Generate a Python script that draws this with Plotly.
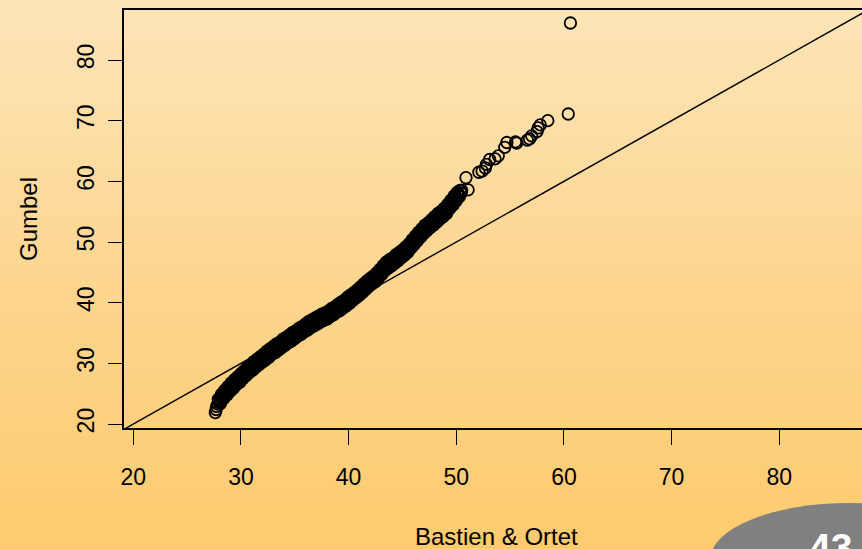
import base64
import struct
import zlib

import plotly.graph_objects as go

# ---- data (the dense band is many overlapping points) ----
bastien_ortet = [
    27.62, 27.70, 27.75, 27.85,
    27.9, 28.0, 28.1, 28.2, 28.3, 28.4, 28.5, 28.6, 28.7, 28.8, 28.9,
    29.0, 29.1, 29.2, 29.3, 29.4, 29.5, 29.6, 29.7, 29.8, 29.9,
    30.0, 30.1, 30.2, 30.3, 30.4, 30.5, 30.6, 30.7, 30.8, 30.9,
    31.0, 31.1, 31.2, 31.3, 31.4, 31.5, 31.6, 31.7, 31.8, 31.9,
    32.0, 32.1, 32.2, 32.3, 32.4, 32.5, 32.6, 32.7, 32.8, 32.9,
    33.0, 33.1, 33.2, 33.3, 33.4, 33.5, 33.6, 33.7, 33.8, 33.9,
    34.0, 34.1, 34.2, 34.3, 34.4, 34.5, 34.6, 34.7, 34.8, 34.9,
    35.0, 35.1, 35.2, 35.3, 35.4, 35.5, 35.6, 35.7, 35.8, 35.9,
    36.0, 36.1, 36.2, 36.3, 36.4, 36.5, 36.6, 36.7, 36.8, 36.9,
    37.0, 37.1, 37.2, 37.3, 37.4, 37.5, 37.6, 37.7, 37.8, 37.9,
    38.0, 38.1, 38.2, 38.3, 38.4, 38.5, 38.6, 38.7, 38.8, 38.9,
    39.0, 39.1, 39.2, 39.3, 39.4, 39.5, 39.6, 39.7, 39.8, 39.9,
    40.0, 40.1, 40.2, 40.3, 40.4, 40.5, 40.6, 40.7, 40.8, 40.9,
    41.0, 41.1, 41.2, 41.3, 41.4, 41.5, 41.6, 41.7, 41.8, 41.9,
    42.0, 42.1, 42.2, 42.3, 42.4, 42.5, 42.6, 42.7, 42.8, 42.9,
    43.0, 43.1, 43.2, 43.3, 43.4, 43.5, 43.6, 43.7, 43.8, 43.9,
    44.0, 44.1, 44.2, 44.3, 44.4, 44.5, 44.6, 44.7, 44.8, 44.9,
    45.0, 45.1, 45.2, 45.3, 45.4, 45.5, 45.6, 45.7, 45.8, 45.9,
    46.0, 46.1, 46.2, 46.3, 46.4, 46.5, 46.6, 46.7, 46.8, 46.9,
    47.0, 47.1, 47.2, 47.3, 47.4, 47.5, 47.6, 47.7, 47.8, 47.9,
    48.0, 48.1, 48.2, 48.3, 48.4, 48.5, 48.6, 48.7, 48.8, 48.9,
    49.0, 49.1, 49.2, 49.3, 49.4, 49.5, 49.6, 49.7, 49.8, 49.9,
    50.0, 50.1, 50.2, 50.3, 50.4, 50.5,
    27.95, 28.05, 28.15, 28.25, 28.35, 28.45, 28.55, 28.65, 28.75, 28.85,
    28.95, 29.05, 29.15, 29.25, 29.35, 29.45, 29.55, 29.65, 29.75, 29.85,
    29.95, 30.05, 30.15, 30.25, 30.35, 30.45, 30.55, 30.65, 30.75, 30.85,
    30.95, 31.05, 31.15, 31.25, 31.35, 31.45, 31.55, 31.65, 31.75, 31.85,
    31.95, 32.05, 32.15, 32.25, 32.35, 32.45, 32.55, 32.65, 32.75, 32.85,
    32.95, 33.05, 33.15, 33.25, 33.35, 33.45, 33.55, 33.65, 33.75, 33.85,
    33.95, 34.05, 34.15, 34.25, 34.35, 34.45, 34.55, 34.65, 34.75, 34.85,
    34.95, 35.05, 35.15, 35.25, 35.35, 35.45, 35.55, 35.65, 35.75, 35.85,
    35.95, 36.05, 36.15, 36.25, 36.35, 36.45, 36.55, 36.65, 36.75, 36.85,
    36.95, 37.05, 37.15, 37.25, 37.35, 37.45, 37.55, 37.65, 37.75, 37.85,
    37.95, 38.05, 38.15, 38.25, 38.35, 38.45, 38.55, 38.65, 38.75, 38.85,
    38.95, 39.05, 39.15, 39.25, 39.35, 39.45, 39.55, 39.65, 39.75, 39.85,
    39.95, 40.05, 40.15, 40.25, 40.35, 40.45, 40.55, 40.65, 40.75, 40.85,
    40.95, 41.05, 41.15, 41.25, 41.35, 41.45, 41.55, 41.65, 41.75, 41.85,
    41.95, 42.05, 42.15, 42.25, 42.35, 42.45, 42.55, 42.65, 42.75, 42.85,
    42.95, 43.05, 43.15, 43.25, 43.35, 43.45, 43.55, 43.65, 43.75, 43.85,
    43.95, 44.05, 44.15, 44.25, 44.35, 44.45, 44.55, 44.65, 44.75, 44.85,
    44.95, 45.05, 45.15, 45.25, 45.35, 45.45, 45.55, 45.65, 45.75, 45.85,
    45.95, 46.05, 46.15, 46.25, 46.35, 46.45, 46.55, 46.65, 46.75, 46.85,
    46.95, 47.05, 47.15, 47.25, 47.35, 47.45, 47.55, 47.65, 47.75, 47.85,
    47.95, 48.05, 48.15, 48.25, 48.35, 48.45, 48.55, 48.65, 48.75, 48.85,
    48.95, 49.05, 49.15, 49.25, 49.35, 49.45, 49.55, 49.65, 49.75, 49.85,
    49.95, 50.05, 50.15, 50.25, 50.35, 50.45,
    51.1, 50.9, 52.1, 52.4, 52.7, 52.8, 53.1, 53.6, 53.9, 54.5,
    54.7, 55.5, 55.6, 56.6, 56.8, 57.0, 57.5, 57.6, 57.8, 58.5,
    60.4, 60.6,
]
gumbel = [
    21.9, 22.4, 22.9, 23.3,
    24.1, 23.8, 23.4, 24.9, 24.5, 24.2, 25.6, 25.2, 24.8, 26.2, 25.8,
    25.4, 26.8, 26.4, 25.9, 27.3, 26.9, 26.5, 27.8, 27.4, 26.9,
    28.3, 27.9, 27.5, 28.8, 28.4, 28.0, 29.4, 28.9, 28.5, 29.8,
    29.4, 28.9, 30.3, 29.8, 29.4, 30.7, 30.2, 29.8, 31.1, 30.7,
    30.2, 31.5, 31.1, 30.6, 32.0, 31.5, 31.0, 32.4, 31.9, 31.5,
    32.8, 32.3, 31.8, 33.2, 32.7, 32.2, 33.5, 33.1, 32.6, 34.0,
    33.5, 33.0, 34.3, 33.9, 33.4, 34.7, 34.2, 33.7, 35.1, 34.6,
    34.1, 35.4, 34.9, 34.5, 35.8, 35.3, 34.8, 36.1, 35.7, 35.2,
    36.5, 36.0, 35.5, 36.9, 36.4, 35.9, 37.2, 36.7, 36.2, 37.5,
    37.0, 36.5, 37.8, 37.3, 36.8, 38.1, 37.6, 37.1, 38.3, 37.8,
    37.3, 38.6, 38.1, 37.7, 39.0, 38.5, 38.0, 39.3, 38.9, 38.4,
    39.7, 39.2, 38.7, 40.1, 39.6, 39.1, 40.4, 40.0, 39.5, 40.9,
    40.4, 39.9, 41.3, 40.8, 40.4, 41.7, 41.2, 40.8, 42.1, 41.7,
    41.2, 42.6, 42.2, 41.7, 43.1, 42.7, 42.2, 43.6, 43.1, 42.7,
    44.0, 43.5, 43.1, 44.4, 44.0, 43.5, 44.9, 44.5, 44.1, 45.5,
    45.1, 44.7, 46.1, 45.7, 45.3, 46.7, 46.2, 45.7, 47.1, 46.6,
    46.1, 47.4, 47.0, 46.5, 47.9, 47.4, 46.9, 48.3, 47.8, 47.4,
    48.7, 48.3, 47.8, 49.2, 48.7, 48.3, 49.7, 49.3, 49.0, 50.4,
    50.0, 49.6, 51.0, 50.6, 50.2, 51.6, 51.2, 50.8, 52.2, 51.8,
    51.4, 52.8, 52.3, 51.9, 53.2, 52.8, 52.4, 53.7, 53.3, 52.8,
    54.2, 53.8, 53.3, 54.7, 54.2, 53.8, 55.1, 54.7, 54.2, 55.6,
    55.1, 54.7, 56.2, 55.8, 55.5, 56.9, 56.5, 56.1, 57.6, 57.2,
    56.8, 58.2, 57.8, 57.5, 58.5, 58.5,
    24.0, 23.6, 24.5, 24.1, 24.9, 24.6, 25.4, 25.0, 25.8, 25.4,
    26.2, 25.8, 26.6, 26.2, 26.9, 26.5, 27.3, 26.8, 27.6, 27.2,
    27.9, 27.5, 28.3, 27.9, 28.6, 28.2, 29.0, 28.5, 29.3, 28.9,
    29.6, 29.2, 29.9, 29.5, 30.2, 29.7, 30.5, 30.0, 30.8, 30.3,
    31.0, 30.6, 31.3, 30.9, 31.6, 31.1, 31.9, 31.4, 32.2, 31.7,
    32.4, 32.0, 32.7, 32.2, 32.9, 32.4, 33.2, 32.7, 33.5, 33.0,
    33.7, 33.3, 34.0, 33.5, 34.2, 33.7, 34.5, 34.0, 34.7, 34.2,
    34.9, 34.5, 35.2, 34.7, 35.4, 34.9, 35.7, 35.2, 35.9, 35.4,
    36.1, 35.7, 36.4, 35.9, 36.6, 36.1, 36.9, 36.4, 37.1, 36.6,
    37.3, 36.8, 37.5, 37.0, 37.7, 37.2, 37.8, 37.3, 38.0, 37.5,
    38.2, 37.7, 38.4, 37.9, 38.6, 38.1, 38.9, 38.4, 39.1, 38.6,
    39.3, 38.9, 39.6, 39.1, 39.8, 39.3, 40.1, 39.6, 40.4, 39.9,
    40.6, 40.2, 40.9, 40.5, 41.2, 40.7, 41.5, 41.0, 41.8, 41.3,
    42.0, 41.6, 42.4, 42.0, 42.7, 42.3, 43.1, 42.6, 43.4, 42.9,
    43.6, 43.2, 43.9, 43.5, 44.2, 43.7, 44.5, 44.1, 44.9, 44.5,
    45.3, 44.9, 45.7, 45.3, 46.1, 45.7, 46.5, 46.0, 46.7, 46.2,
    46.9, 46.5, 47.2, 46.8, 47.5, 47.0, 47.8, 47.3, 48.1, 47.6,
    48.3, 47.9, 48.6, 48.2, 49.0, 48.5, 49.3, 48.9, 49.8, 49.4,
    50.2, 49.8, 50.6, 50.2, 51.0, 50.6, 51.4, 51.0, 51.8, 51.4,
    52.2, 51.8, 52.5, 52.1, 52.9, 52.4, 53.2, 52.7, 53.5, 53.1,
    53.8, 53.4, 54.1, 53.7, 54.5, 54.0, 54.8, 54.3, 55.1, 54.6,
    55.3, 54.9, 55.8, 55.4, 56.2, 55.9, 56.7, 56.3, 57.2, 56.8,
    57.6, 57.2, 58.0, 57.7, 58.5, 58.1,
    58.6, 60.6, 61.5, 61.7, 62.2, 62.8, 63.6, 63.7, 64.2, 65.6,
    66.4, 66.5, 66.3, 66.8, 67.0, 67.5, 68.2, 68.8, 69.3, 70.0,
    71.1, 86.1,
]
identity_line = [0, 100]
tick_values = [20, 30, 40, 50, 60, 70, 80]
x_title = "Bastien & Ortet"
y_title = "Gumbel"
page_number = "43"

# ---- geometry ----
W, H = 862, 549
L, R, T, B = 124, 0, 10, 121
PW, PH = W - L - R, H - T - B


def px_to_paper(px, py):
    return (px - L) / PW, (H - B - py) / PH


# ---- background gradient image ----
def gradient_png(height):
    stops = [(0, (253, 229, 184)), (0.5, (253, 214, 145)), (1.0, (253, 203, 110))]
    rows = []
    for i in range(height):
        t = i / (height - 1)
        for (t0, c0), (t1, c1) in zip(stops[:-1], stops[1:]):
            if t0 <= t <= t1:
                f = (t - t0) / (t1 - t0)
                c = tuple(int(round(a + (b - a) * f)) for a, b in zip(c0, c1))
                break
        rows.append(b"\x00" + bytes(c) * 2)
    raw = b"".join(rows)

    def chunk(tag, data):
        return struct.pack(">I", len(data)) + tag + data + struct.pack(">I", zlib.crc32(tag + data) & 0xFFFFFFFF)

    png = b"\x89PNG\r\n\x1a\n"
    png += chunk(b"IHDR", struct.pack(">IIBBBBB", 2, height, 8, 2, 0, 0, 0))
    png += chunk(b"IDAT", zlib.compress(raw, 9))
    png += chunk(b"IEND", b"")
    return "data:image/png;base64," + base64.b64encode(png).decode()


FONT = "Liberation Sans, Arial, Helvetica, sans-serif"

fig = go.Figure()
fig.add_trace(go.Scatter(
    x=identity_line, y=identity_line, mode="lines",
    line=dict(color="black", width=1.4), hoverinfo="skip", showlegend=False,
))
fig.add_trace(go.Scatter(
    x=bastien_ortet, y=gumbel, mode="markers",
    marker=dict(symbol="circle-open", size=11.5, color="black", line=dict(width=1.8)),
    showlegend=False, cliponaxis=False,
))

x0p, y0p = px_to_paper(0, 0)
fig.add_layout_image(dict(
    source=gradient_png(H), xref="paper", yref="paper",
    x=x0p, y=y0p, sizex=W / PW, sizey=H / PH,
    xanchor="left", yanchor="top", sizing="stretch", layer="below",
))

# grey page-number ellipse
ex0, ey0 = px_to_paper(710, 617)
ex1, ey1 = px_to_paper(990, 503)
fig.add_shape(type="circle", xref="paper", yref="paper",
              x0=ex0, x1=ex1, y0=ey0, y1=ey1,
              fillcolor="#808080", line=dict(width=0), layer="above")

ax, ay = px_to_paper(28, 219)
fig.add_annotation(text=y_title, xref="paper", yref="paper", x=ax, y=ay,
                   xanchor="center", yanchor="middle",
                   textangle=-90, showarrow=False,
                   font=dict(family=FONT, size=24, color="black"))
bx, by = px_to_paper(496.7, 537)
fig.add_annotation(text=x_title, xref="paper", yref="paper", x=bx, y=by,
                   xanchor="center", yanchor="middle",
                   showarrow=False, font=dict(family=FONT, size=24, color="black"))
nx, ny = px_to_paper(830, 547)
fig.add_annotation(text="<b>" + page_number + "</b>", xref="paper", yref="paper",
                   x=nx, y=ny, xanchor="center", yanchor="middle", showarrow=False,
                   font=dict(family=FONT, size=39, color="white"))

fig.update_layout(
    width=W, height=H, template="none",
    margin=dict(l=L, r=R, t=T, b=B, pad=0),
    paper_bgcolor="#FDD690", plot_bgcolor="rgba(0,0,0,0)",
    font=dict(family=FONT, size=23, color="black"),
    xaxis=dict(range=[19.14, 87.68], tickvals=tick_values, ticks="outside",
               ticklen=15, tickwidth=1.3, tickcolor="black",
               showline=True, linecolor="black", linewidth=1.5, mirror=True,
               showgrid=False, zeroline=False, automargin=False,
               tickfont=dict(family=FONT, size=23), ticklabelstandoff=13),
    yaxis=dict(range=[19.35, 88.24], tickvals=tick_values, ticks="outside",
               ticklen=14, tickwidth=1.3, tickcolor="black",
               showline=True, linecolor="black", linewidth=1.5, mirror=False,
               showgrid=False, zeroline=False, automargin=False, tickangle=-90,
               tickfont=dict(family=FONT, size=23), ticklabelstandoff=5),
)

fig.write_html("out.html")
